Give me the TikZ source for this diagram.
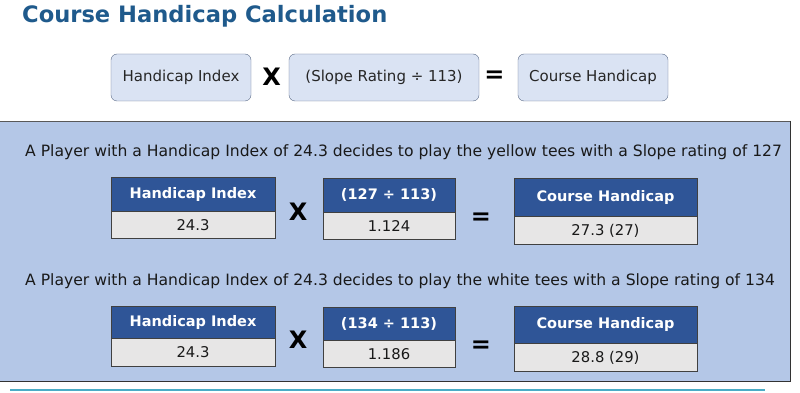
\documentclass[tikz,border=0pt]{standalone}
\usepackage{fontspec}
\setmainfont{DejaVu Sans}
\usepackage{xcolor}
\usepackage{tikz}
\usetikzlibrary{positioning}

\definecolor{titleblue}{HTML}{1F5A8C}
\definecolor{boxfill}{HTML}{DAE3F3}
\definecolor{boxline}{HTML}{5B6B87}
\definecolor{panelfill}{HTML}{B4C7E7}
\definecolor{headblue}{HTML}{2F5597}
\definecolor{cellgray}{HTML}{E7E6E6}
\definecolor{cellline}{HTML}{404040}
\definecolor{rulecyan}{HTML}{4BACC6}

\begin{document}
\begin{tikzpicture}[x=1pt, y=-1pt,
    topbox/.style={draw=boxline, fill=boxfill, rounded corners=6pt, inner sep=0pt,
        minimum height=47pt, text=black!85, font=\fontsize{15}{18}\selectfont},
    hdr/.style={draw=cellline, fill=headblue, inner sep=0pt, text=white,
        font=\bfseries\fontsize{14.5}{17}\selectfont},
    val/.style={draw=cellline, fill=cellgray, inner sep=0pt, text=black!90,
        font=\fontsize{14.8}{17}\selectfont},
    op/.style={inner sep=0pt, font=\bfseries\fontsize{24}{24}\selectfont},
    sentence/.style={anchor=base west, inner sep=0pt, text=black!90,
        font=\fontsize{15.6}{18}\selectfont},
    wA/.style={minimum width=164pt},
    wB/.style={minimum width=132pt},
    wC/.style={minimum width=183pt}]

    \useasboundingbox (0,0) rectangle (800,393);

    % Title and formula
    \node [anchor=base west, inner sep=0pt, text=titleblue,
        font=\bfseries\fontsize{22.6}{26}\selectfont] at (22,23) (title) {Course Handicap Calculation};

    \node [topbox, minimum width=140pt] at (181,77.5) (fIndex) {Handicap Index};
    \node [op] at (271.5,77) (fTimes) {X};
    \node [topbox, minimum width=190pt] at (384,77.5) (fSlope) {(Slope Rating ÷ 113)};
    \node [op] at (494.5,77) (fEquals) {=};
    \node [topbox, minimum width=150pt] at (593,77.5) (fCourse) {Course Handicap};

    % The panel
    \fill [panelfill] (0,121) rectangle (790,381);
    \draw [gray!70!black] (0,121) -- (790,121);
    \draw [black!80] (790,121) -- (790,381) -- (0,381);

    % Example 1: yellow tees
    \node [sentence] at (25,157) (yText) {A Player with a Handicap Index of 24.3 decides to play the yellow tees with a Slope rating of 127};

    \node [hdr, wA, minimum height=34pt] at (193,194) (yIndexH) {Handicap Index};
    \node [val, wA, minimum height=27pt, below=0pt of yIndexH] (yIndexV) {24.3};
    \node [op] at (298,212) (yTimes) {X};
    \node [hdr, wB, minimum height=34pt] at (389,195) (ySlopeH) {(127 ÷ 113)};
    \node [val, wB, minimum height=27pt, below=0pt of ySlopeH] (ySlopeV) {1.124};
    \node [op] at (481,219) (yEquals) {=};
    \node [hdr, wC, minimum height=38pt] at (605.5,197) (yCourseH) {Course Handicap};
    \node [val, wC, minimum height=28pt, below=0pt of yCourseH] (yCourseV) {27.3 (27)};

    % Example 2: white tees
    \node [sentence] at (25,285) (wText) {A Player with a Handicap Index of 24.3 decides to play the white tees with a Slope rating of 134};

    \node [hdr, wA, minimum height=32pt] at (193,322) (wIndexH) {Handicap Index};
    \node [val, wA, minimum height=28pt, below=0pt of wIndexH] (wIndexV) {24.3};
    \node [op] at (298,340) (wTimes) {X};
    \node [hdr, wB, minimum height=33pt] at (389,323.5) (wSlopeH) {(134 ÷ 113)};
    \node [val, wB, minimum height=27pt, below=0pt of wSlopeH] (wSlopeV) {1.186};
    \node [op] at (481,347) (wEquals) {=};
    \node [hdr, wC, minimum height=37pt] at (605.5,324.5) (wCourseH) {Course Handicap};
    \node [val, wC, minimum height=28pt, below=0pt of wCourseH] (wCourseV) {28.8 (29)};

    % Rule below
    \draw [rulecyan, line width=1.5pt] (10,390) -- (765,390);

\end{tikzpicture}
\end{document}
